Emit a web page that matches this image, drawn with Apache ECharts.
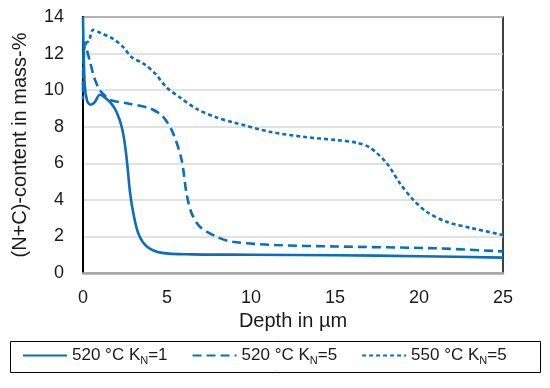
<!DOCTYPE html>
<html><head><meta charset="utf-8">
<script src="https://cdn.jsdelivr.net/npm/echarts@6/dist/echarts.min.js"></script>
<style>html,body{margin:0;padding:0;background:#fff}#c{width:550px;height:388px}</style>
</head><body><div id="c"></div>
<script>
var seriesNames = ['520 °C K{sub|N}=1', '520 °C K{sub|N}=5', '550 °C K{sub|N}=5'];
var depthA = [0, 0.1, 0.25, 0.45, 0.7, 1.0, 1.3, 1.7, 2.0, 2.3, 2.5, 2.65, 2.8, 3.0, 3.3, 3.8, 4.7, 6.5, 10, 15, 20, 25];
var valA   = [14, 10.3, 9.4, 9.2, 9.35, 9.75, 9.6, 9.25, 8.8, 8.0, 7.0, 5.8, 4.4, 3.25, 2.15, 1.45, 1.1, 1.02, 1.0, 0.97, 0.92, 0.84];
var depthB = [0, 0.1, 0.4, 0.7, 1.0, 1.3, 1.6, 2.6, 4.0, 4.76, 5.36, 5.87, 6.17, 6.47, 6.96, 7.96, 8.9, 11.5, 15, 21, 25];
var valB   = [10.0, 12.6, 11.6, 10.6, 10.0, 9.7, 9.46, 9.28, 9.0, 8.55, 7.65, 6.18, 4.3, 3.26, 2.53, 1.98, 1.71, 1.53, 1.45, 1.35, 1.18];
var depthC = [0, 0.1, 0.35, 0.6, 1.0, 1.8, 2.4, 2.9, 3.6, 4.3, 4.98, 5.77, 6.77, 7.96, 8.95, 11.1, 13.1, 15.1, 16.3, 17.1, 18.08, 18.87, 19.66, 20.45, 21.64, 23.2, 25];
var valC   = [9.5, 12.5, 12.7, 13.3, 13.15, 12.8, 12.35, 11.8, 11.45, 10.9, 10.15, 9.6, 8.97, 8.5, 8.24, 7.73, 7.45, 7.27, 7.12, 6.85, 6.0, 4.9, 4.0, 3.35, 2.8, 2.44, 2.08];
var xTicks = [0, 5, 10, 15, 20, 25];
var yTicks = [0, 2, 4, 6, 8, 10, 12, 14];

function pairs(xs, ys){ return xs.map(function(x,i){ return [x, ys[i]]; }); }
var color = '#0a6ebd';
var txt = '#1a1a1a';
var font = "'Liberation Sans', Arial, sans-serif";
var chart = echarts.init(document.getElementById('c'), null, {renderer:'canvas'});
function mk(name, xs, ys, dash){
  return {name:name, type:'line', data:pairs(xs,ys), smooth:0.3, showSymbol:false, symbol:'none',
    lineStyle:{color:color, width:2.6, type:dash}, itemStyle:{color:color}};
}
chart.setOption({
  animation:false,
  grid:{left:83, right:47, top:17, bottom:115, show:true, borderColor:'#000', borderWidth:1.5, backgroundColor:'transparent'},
  xAxis:{type:'value', min:xTicks[0], max:xTicks[xTicks.length-1], interval:5,
    name:'Depth in µm', nameLocation:'middle', nameGap:38,
    nameTextStyle:{fontFamily:font, fontSize:20, color:txt},
    axisLine:{show:true, onZero:false, lineStyle:{color:'#a6a6a6', width:2.5}},
    axisTick:{show:false}, splitLine:{show:false},
    axisLabel:{fontFamily:font, fontSize:18, color:txt, margin:16}},
  yAxis:{type:'value', min:yTicks[0], max:yTicks[yTicks.length-1], interval:2,
    name:'(N+C)-content in mass-%', nameLocation:'middle', nameGap:53,
    nameTextStyle:{fontFamily:font, fontSize:20, color:txt},
    axisLine:{show:true, lineStyle:{color:'#000', width:2}},
    axisTick:{show:false},
    splitLine:{lineStyle:{color:'#d9d9d9', width:1.5}},
    axisLabel:{fontFamily:font, fontSize:18, color:txt, margin:19}},
  legend:{left:22, top:347, itemWidth:44, itemHeight:10, itemGap:24, padding:0,
    data:seriesNames,
    itemStyle:{color:'rgba(0,0,0,0)', borderWidth:0, opacity:0},
    textStyle:{fontFamily:font, fontSize:17, color:txt,
      rich:{sub:{fontFamily:font, fontSize:11, color:txt, padding:[10,0,0,0]}}}},
  graphic:[{type:'rect', shape:{x:10.5, y:341.5, width:530, height:31}, style:{fill:'none', stroke:'#000', lineWidth:1}}],
  series:[
    mk(seriesNames[0], depthA, valA, 'solid'),
    mk(seriesNames[1], depthB, valB, [9,5]),
    mk(seriesNames[2], depthC, valC, [4,3])
  ]
});
</script></body></html>
